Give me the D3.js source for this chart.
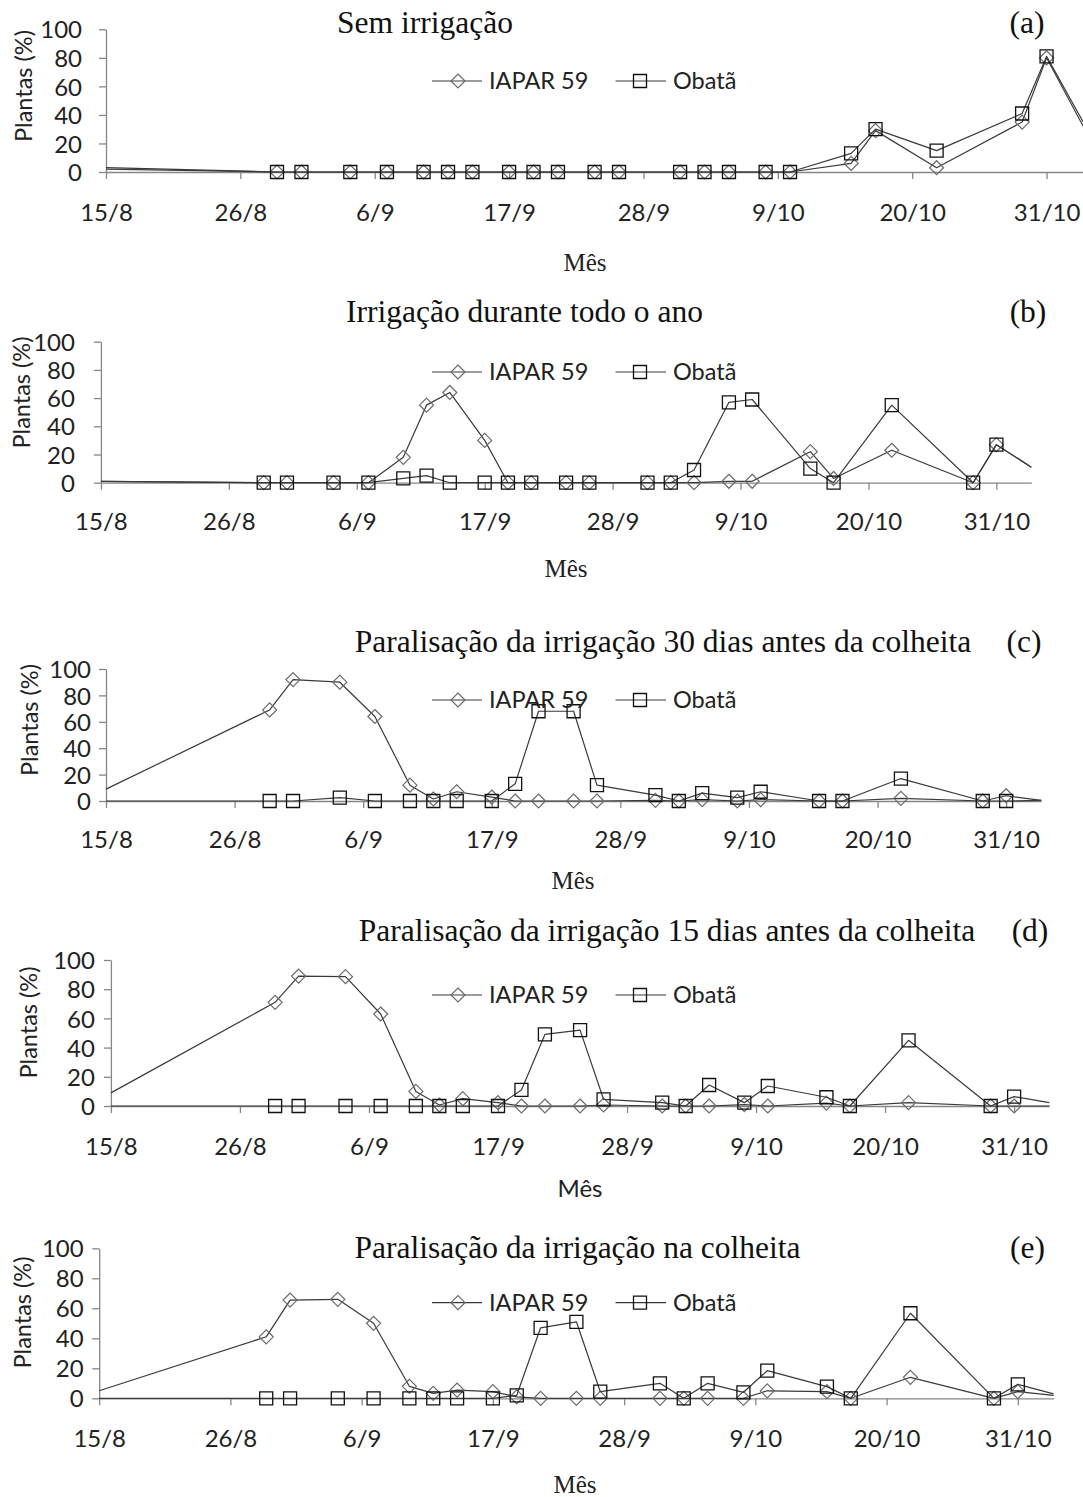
<!DOCTYPE html>
<html>
<head>
<meta charset="utf-8">
<script src="https://cdn.jsdelivr.net/npm/d3@7"></script>
<style>
  html, body { margin: 0; padding: 0; background: #fff; }
  svg { display: block; }
</style>
</head>
<body>
<svg id="chart" width="1083" height="1497"></svg>
<script>
// ---------------- DATA ----------------
const dates = ["15/8","29/8","31/8","4/9","7/9","10/9","12/9","14/9","17/9","19/9","21/9","24/9",
               "26/9","1/10","3/10","5/10","8/10","10/10","15/10","17/10","22/10","29/10","31/10","3/11"];
const tickLabels = ["15/8","26/8","6/9","17/9","28/9","9/10","20/10","31/10"];
const yTicks = [0, 20, 40, 60, 80, 100];
const seriesNames = ["IAPAR 59", "Obatã"];

const titles = ["Sem irrigação", "Irrigação durante todo o ano",
  "Paralisação da irrigação 30 dias antes da colheita",
  "Paralisação da irrigação 15 dias antes da colheita",
  "Paralisação da irrigação na colheita"];
const tags = ["(a)", "(b)", "(c)", "(d)", "(e)"];

const iaparA = [2,0,0,0,0,0,0,0,0,0,0,0,0,0,0,0,0,0,6,29,3,35,80,32];
const obataA = [3,0,0,0,0,0,0,0,0,0,0,0,0,0,0,0,0,0,13,30,15,41,81,35];

const iaparB = [1,0,0,0,0,18,55,64,30,0,0,0,0,0,0,0,1,1,22,3,23,0,27,11];
const obataB = [1,0,0,0,0,3,5,0,0,0,0,0,0,0,0,9,57,59,10,0,55,0,27,11];

const iaparC = [9,69,92,90,64,12,1.5,7,3,0,0,0,0,0.5,0,1,0,1,0,0,2,0,4,0.5];
const obataC = [0,0,0,2.5,0,0,0,0,0,13,68,68,12,4.5,0,6,2.5,7,0,0,17,0,0,0.5];

const iaparD = [9,71,89,88.6,63,10,0.7,5,2.3,0,0,0,0.7,0,0,0,1,0,2,0,2.3,0,0,0];
const obataD = [0,0,0,0,0,0,0,0,0,11,49,52,4.6,2.3,0,14.4,2.3,13.7,6,0,45,0,6.4,2.3];

const iaparE = [5,41,65.5,66,50,8,3.3,5.5,4.4,1,0,0,0,0,0,0,0,5,4.4,0,14,0,4.4,2];
const obataE = [0,0,0,0,0,0,0,0,0,2,47,51,4.4,10,0,10,4,18.4,7.8,0,56.7,0,9.3,3];

const panelSeries = [[iaparA, obataA],[iaparB, obataB],[iaparC, obataC],[iaparD, obataD],[iaparE, obataE]];

// ---------------- LAYOUT (positions only) ----------------
const layout = [
  {x0:106,   x1:1083.2, y0:172,    y1:29.3,   titleX:425,   titleY:33,   tagX:1027,   xlabX:585,   xlabY:271,  xlabSans:false, tickY:220.5, ylabX:23, ylabY:86,    legY:81,    yGap:24},
  {x0:100.9, x1:1031.3, y0:482.7,  y1:341.7,  titleX:524.5, titleY:322,  tagX:1028,   xlabX:566,   xlabY:577,  xlabSans:false, tickY:530,   ylabX:21, ylabY:392.5, legY:372,   yGap:26},
  {x0:106,   x1:1041.2, y0:801,    y1:669,    titleX:663,   titleY:652,  tagX:1024,   xlabX:573,   xlabY:889,  xlabSans:false, tickY:848,   ylabX:29, ylabY:720,   legY:700,   yGap:15},
  {x0:110.9, x1:1049.3, y0:1106,   y1:960,    titleX:667,   titleY:940.5,tagX:1030,   xlabX:580,   xlabY:1197, xlabSans:true,  tickY:1155,  ylabX:28, ylabY:1022.5,legY:995,   yGap:16},
  {x0:99.2,  x1:1053.6, y0:1398.3, y1:1248.3, titleX:577.5, titleY:1258, tagX:1027.5, xlabX:575,   xlabY:1493, xlabSans:false, tickY:1447,  ylabX:22, ylabY:1312.5,legY:1302.7,yGap:15.5}
];

const SANS = "Lato, 'Open Sans', sans-serif";
const SERIF = "'Liberation Serif', 'DejaVu Serif', serif";
const AXIS = "#868686";
const LINE = "#3a3a3a";
const DIA = "#6a6a6a";
const SQ = "#111";

const parse = s => d3.utcParse("%d/%m/%Y")(s + "/2009");
const dateVals = dates.map(parse);
const tickVals = tickLabels.map(parse);

const svg = d3.select("#chart");
svg.append("rect").attr("width", 1083).attr("height", 1497).attr("fill", "#fff");

const diamondPath = r => `M0,${-r}L${r},0L0,${r}L${-r},0Z`;
const squareSym = d3.symbol().type(d3.symbolSquare).size(169);

function drawMarker(g, kind) {
  if (kind === 0) {
    g.append("path").attr("d", diamondPath(7)).attr("fill", "none")
      .attr("stroke", DIA).attr("stroke-width", 1.2);
  } else {
    g.append("path").attr("d", squareSym()).attr("fill", "none")
      .attr("stroke", SQ).attr("stroke-width", 1.3);
  }
}

layout.forEach((L, p) => {
  const g = svg.append("g");
  const x = d3.scaleUtc().domain([dateVals[0], dateVals[dateVals.length - 1]]).range([L.x0, L.x1]);
  const y = d3.scaleLinear().domain([0, 100]).range([L.y0, L.y1]);

  // y axis
  const ya = g.append("g").attr("transform", `translate(${L.x0},0)`)
    .call(d3.axisLeft(y).tickValues(yTicks).tickSize(7).tickSizeOuter(0));
  ya.select(".domain").attr("stroke", AXIS).attr("stroke-width", 1.3);
  ya.selectAll(".tick line").attr("stroke", AXIS).attr("stroke-width", 1.3);
  ya.selectAll(".tick text").attr("x", -L.yGap).attr("dy", "0.36em")
    .attr("font-family", SANS).attr("font-size", 24).attr("fill", "#222");

  // x axis
  const xa = g.append("g").attr("transform", `translate(0,${L.y0})`)
    .call(d3.axisBottom(x).tickValues(tickVals).tickSize(7).tickSizeOuter(0)
      .tickFormat((d, i) => tickLabels[i]));
  xa.select(".domain").attr("stroke", AXIS).attr("stroke-width", 1.3);
  xa.selectAll(".tick line").attr("stroke", AXIS).attr("stroke-width", 1.3);
  xa.selectAll(".tick text").attr("y", L.tickY - L.y0).attr("dy", 0)
    .attr("font-family", SANS).attr("font-size", 24).attr("fill", "#222");

  // series
  const line = d3.line().x((d, i) => x(dateVals[i])).y(d => y(d));
  panelSeries[p].forEach((vals, s) => {
    g.append("path").datum(vals).attr("d", line).attr("fill", "none")
      .attr("stroke", LINE).attr("stroke-width", 1.2).attr("stroke-linejoin", "round");
    vals.forEach((v, i) => {
      if (i === 0 || i === vals.length - 1) return;
      const m = g.append("g").attr("transform", `translate(${x(dateVals[i])},${y(v)})`);
      drawMarker(m, s);
    });
  });

  // title + tag
  g.append("text").attr("x", L.titleX).attr("y", L.titleY).attr("text-anchor", "middle")
    .attr("font-family", SERIF).attr("font-size", 31.5).attr("fill", "#111").text(titles[p]);
  g.append("text").attr("x", L.tagX).attr("y", L.titleY).attr("text-anchor", "middle")
    .attr("font-family", SERIF).attr("font-size", 31.5).attr("fill", "#111").text(tags[p]);

  // axis titles
  g.append("text").attr("x", L.xlabX).attr("y", L.xlabY).attr("text-anchor", "middle")
    .attr("font-family", L.xlabSans ? SANS : SERIF).attr("font-size", L.xlabSans ? 24 : 25)
    .attr("fill", "#222").text("Mês");
  g.append("text").attr("transform", `translate(${L.ylabX},${L.ylabY}) rotate(-90)`)
    .attr("text-anchor", "middle").attr("dominant-baseline", "central")
    .attr("font-family", SANS).attr("font-size", 23.5).attr("fill", "#222").text("Plantas (%)");

  // legend
  const legItems = [{lx0:432, lx1:482, mx:458, tx:489}, {lx0:615.5, lx1:666, mx:640, tx:673}];
  legItems.forEach((it, s) => {
    g.append("line").attr("x1", it.lx0).attr("x2", it.lx1).attr("y1", L.legY).attr("y2", L.legY)
      .attr("stroke", LINE).attr("stroke-width", 1.2);
    const m = g.append("g").attr("transform", `translate(${it.mx},${L.legY})`);
    drawMarker(m, s);
    g.append("text").attr("x", it.tx).attr("y", L.legY).attr("dy", "0.36em")
      .attr("font-family", SANS).attr("font-size", 23.5).attr("fill", "#222").text(seriesNames[s]);
  });
});
</script>
</body>
</html>
